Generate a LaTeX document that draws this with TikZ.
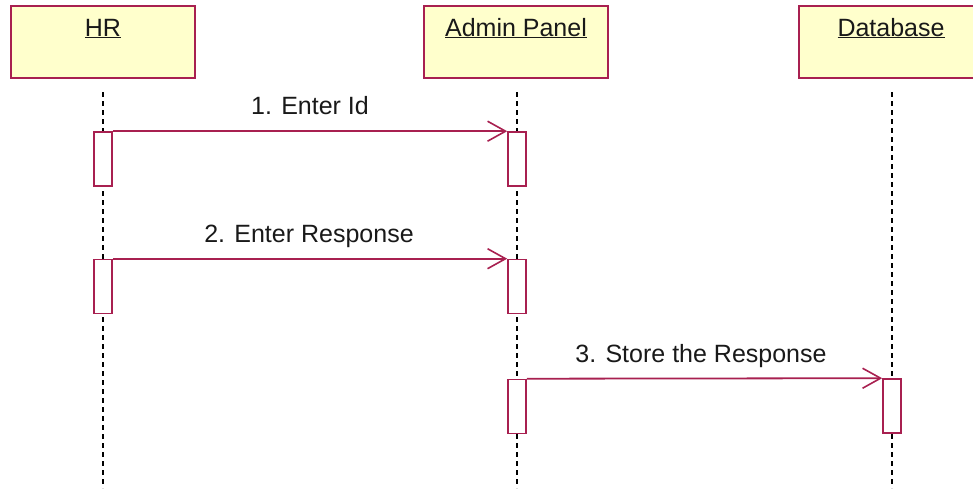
\documentclass[tikz,border=0pt]{standalone}
\usepackage{fontspec}
\setmainfont{Liberation Sans}
\usetikzlibrary{arrows.meta}
\definecolor{umlred}{RGB}{168,32,80}
\definecolor{umlfill}{RGB}{255,255,204}
\begin{document}
\begin{tikzpicture}[x=1pt,y=-1pt,
  head/.style={draw=umlred,fill=umlfill,line width=2pt,minimum width=184pt,minimum height=72pt,inner sep=0pt},
  act/.style={draw=umlred,fill=white,line width=1.6pt,minimum width=18pt,minimum height=54pt,inner sep=0pt},
  life/.style={black,line width=2pt,dash pattern=on 5pt off 4pt},
  msg/.style={umlred,line width=1.8pt,-{Straight Barb[length=18pt,width=20pt,line width=1.6pt]}},
  lbl/.style={font=\fontsize{25}{30}\selectfont,anchor=base,inner sep=0pt,text=black!90}]
\useasboundingbox (0,0) rectangle (973,488);
% heads
\node[head] (hr) at (103,42) {};
\node[head] (ap) at (516,42) {};
\node[head] (db) at (891,42) {};
\node[lbl] (hrt) at (103,36) {\underline{HR}};
\node[lbl] (apt) at (516,36) {\underline{Admin Panel}};
\node[lbl] (dbt) at (891,36) {\underline{Database}};
% lifelines
\coordinate (hrtop) at (103,92);
\coordinate (hrbot) at (103,488);
\coordinate (aptop) at (517,92);
\coordinate (apbot) at (517,488);
\coordinate (dbtop) at (892,92);
\coordinate (dbbot) at (892,488);
\draw[life] (hrtop) -- (hrbot);
\draw[life] (aptop) -- (apbot);
\draw[life] (dbtop) -- (dbbot);
% activations
\node[act] (hr1) at (103,159) {};
\node[act] (ap1) at (517,159) {};
\node[act] (hr2) at (103,286.5) {};
\node[act] (ap2) at (517,286.5) {};
\node[act] (ap3) at (517,406.5) {};
\node[act] (db3) at (892,406) {};
% messages
\draw[msg] (hr1.north east) -- (ap1.north west);
\draw[msg] (hr2.north east) -- (ap2.north west);
\draw[msg] (ap3.north east) -- (db3.north west);
\node[lbl] (m1) at (310,114) {1. Enter Id};
\node[lbl] (m2) at (309,242) {2. Enter Response};
\node[lbl] (m3) at (701,362) {3. Store the Response};
\end{tikzpicture}
\end{document}
